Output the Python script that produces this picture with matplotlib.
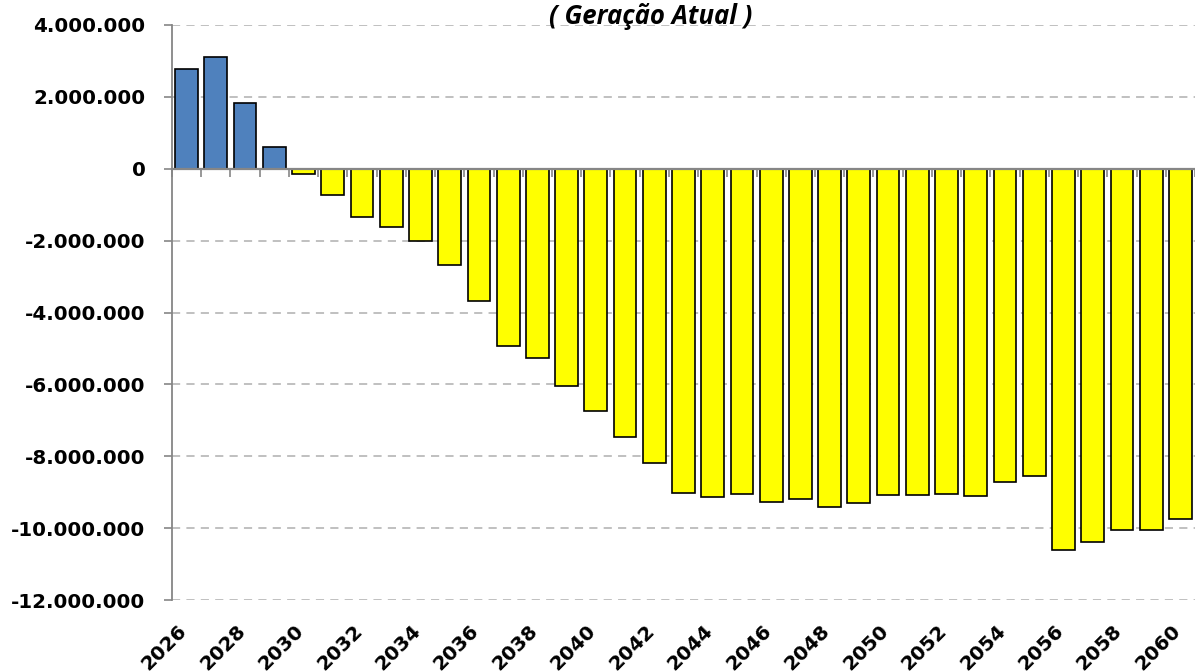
import numpy as np
import matplotlib
matplotlib.use("Agg")
import matplotlib.pyplot as plt
from matplotlib.ticker import FuncFormatter
from matplotlib.transforms import ScaledTranslation

years = list(range(2026, 2061))
values = [
    2.77e6, 3.12e6, 1.83e6, 0.60e6, -0.15e6, -0.74e6, -1.33e6, -1.63e6,
    -2.02e6, -2.69e6, -3.67e6, -4.94e6, -5.26e6, -6.05e6, -6.73e6, -7.46e6,
    -8.18e6, -9.01e6, -9.12e6, -9.05e6, -9.26e6, -9.19e6, -9.40e6, -9.29e6,
    -9.07e6, -9.09e6, -9.05e6, -9.10e6, -8.71e6, -8.54e6, -10.60e6, -10.38e6,
    -10.04e6, -10.05e6, -9.74e6,
]
title = "( Geração Atual )"
y_ticks = [4e6, 2e6, 0, -2e6, -4e6, -6e6, -8e6, -10e6, -12e6]

W, H, DPI = 1195, 671, 100
fig = plt.figure(figsize=(W / DPI, H / DPI), dpi=DPI)
ax = fig.add_axes([172 / W, 1 - 600 / H, (W - 172) / W, (600 - 25) / H])

x = np.arange(len(years))
colors = ["#4F81BD" if v >= 0 else "#FFFF00" for v in values]
ax.bar(x, values, width=0.78, color=colors, edgecolor="black", linewidth=1.2, zorder=3)

ax.set_xlim(-0.5, -0.5 + (W - 172) / 29.55)
ax.set_ylim(-12e6, 4e6)

grey = "#868686"
ax.set_yticks(y_ticks)
ax.yaxis.set_major_formatter(FuncFormatter(lambda v, p: f"{int(round(v)):,}".replace(",", ".")))
ax.grid(axis="y", color="#C0C0C0", linewidth=1.4, linestyle=(0, (4.2, 3.2)), zorder=0)
ax.tick_params(axis="y", direction="out", length=6, width=1.2, color=grey, pad=13,
               labelsize=14.3)
for lab in ax.get_yticklabels():
    lab.set_fontweight("bold")
    lab.set_fontfamily("DejaVu Sans")

for s in ["top", "right"]:
    ax.spines[s].set_visible(False)
ax.spines["left"].set_color(grey)
ax.spines["left"].set_linewidth(1.3)
ax.spines["bottom"].set_position(("data", 0))
ax.spines["bottom"].set_color(grey)
ax.spines["bottom"].set_linewidth(1.6)
ax.spines["bottom"].set_zorder(5)

ax.set_xticks(np.arange(-0.5, len(years), 1))
ax.tick_params(axis="x", direction="out", length=6, width=1.2, color=grey, labelbottom=False)

sec = ax.secondary_xaxis("bottom")
sec.set_xticks(x[::2], [str(y) for y in years[::2]])
sec.spines["bottom"].set_visible(False)
sec.tick_params(axis="x", length=0, pad=15, labelsize=14.3)
off = ScaledTranslation(4 / DPI, 0, fig.dpi_scale_trans)
for lab in sec.get_xticklabels():
    lab.set_rotation(45)
    lab.set_rotation_mode("default")
    lab.set_ha("right")
    lab.set_va("top")
    lab.set_fontweight("bold")
    lab.set_transform(lab.get_transform() + off)

fig.text(651 / W, 1 - 24 / H, title, ha="center", va="baseline",
         fontsize=18.5, fontweight="bold", fontstyle="italic", family="Open Sans")

fig.savefig("out.png", dpi=DPI)
